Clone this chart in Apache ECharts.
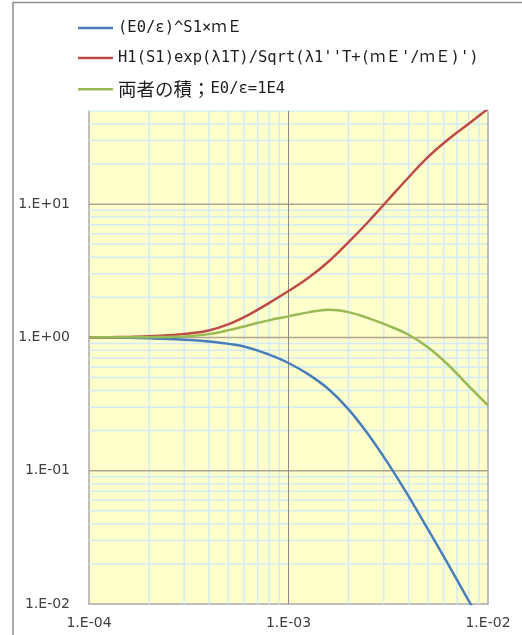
<!DOCTYPE html>
<html>
<head>
<meta charset="utf-8">
<script src="https://cdn.jsdelivr.net/npm/echarts@6/dist/echarts.min.js"></script>
<style>
  html, body { margin: 0; padding: 0; background: #ffffff; }
  #chart { width: 522px; height: 635px; }
</style>
</head>
<body>
<div id="chart"></div>
<script>
// Strain rate samples, 0.1 decade apart
const xValues = [1.0e-4, 1.259e-4, 1.585e-4, 1.995e-4, 2.512e-4, 3.162e-4, 3.981e-4,
                 5.012e-4, 6.310e-4, 7.943e-4, 1.0e-3, 1.259e-3, 1.585e-3, 1.995e-3,
                 2.512e-3, 3.162e-3, 3.981e-3, 5.012e-3, 6.310e-3, 7.943e-3, 1.0e-2];

// (E0/ε)^S1×mE
const seriesA = [1.0, 0.998, 0.993, 0.984, 0.973, 0.957, 0.933,
                 0.895, 0.838, 0.746, 0.643, 0.528, 0.410, 0.290,
                 0.187, 0.113, 0.0650, 0.0361, 0.0199, 0.0108, 0.00586];
// H1(S1)exp(λ1T)/Sqrt(...)
const seriesB = [1.0, 1.005, 1.009, 1.019, 1.038, 1.069, 1.127,
                 1.259, 1.479, 1.803, 2.228, 2.805, 3.698, 5.164,
                 7.379, 10.79, 15.78, 22.65, 30.55, 39.81, 51.88];
// product of both, E0/ε = 1E4
const seriesC = [1.0, 1.002, 1.003, 1.005, 1.009, 1.023, 1.059,
                 1.135, 1.236, 1.343, 1.439, 1.542, 1.614, 1.549,
                 1.396, 1.225, 1.052, 0.841, 0.624, 0.437, 0.309];

const seriesNames = [
  '(E0/ε)^S1×ｍＥ',
  "H1(S1)exp(λ1T)/Sqrt(λ1''T+(ｍＥ'/ｍＥ)')",
  '両者の積；E0/ε=1E4'
];

// axis ranges and gridline values
const xMin = 1e-4, xMax = 1e-2;
const yMin = 1e-2, yMax = 50;
const xMajor = [1e-3];
const xMinor = [2e-4, 3e-4, 4e-4, 5e-4, 6e-4, 7e-4, 8e-4, 9e-4,
                2e-3, 3e-3, 4e-3, 5e-3, 6e-3, 7e-3, 8e-3, 9e-3];
const xEdge = [1e-2];
const yMajor = [1e-1, 1, 10];
const yMinor = [2e-2, 3e-2, 4e-2, 5e-2, 6e-2, 7e-2, 8e-2, 9e-2,
                2e-1, 3e-1, 4e-1, 5e-1, 6e-1, 7e-1, 8e-1, 9e-1,
                2, 3, 4, 5, 6, 7, 8, 9, 20, 30, 40, 50];

const minorColor = '#d2eaf1';
const majorYColor = '#aca68e';
const majorXColor = '#8a8a8a';
const edgeColor = '#a8a8a8';
const curveColors = ['#4a7ebb', '#be4b48', '#98b954'];

function expLabel(v) {
  const e = Math.round(Math.log10(v));
  if (Math.abs(v / Math.pow(10, e) - 1) > 1e-6) return '';
  const a = Math.abs(e);
  return '1.E' + (e >= 0 ? '+' : '-') + (a < 10 ? '0' : '') + a;
}

function pairs(ys) { return xValues.map((x, i) => [x, ys[i]]); }

// gridlines drawn as broken line series spanning the axis ranges
function verticalLines(list) {
  const d = [];
  list.forEach(v => { d.push([v, yMin], [v, yMax], [v, '-']); });
  return d;
}
function horizontalLines(list) {
  const d = [];
  list.forEach(v => { d.push([xMin, v], [xMax, v], ['-', v]); });
  return d;
}
function gridSeries(data, color, width, z) {
  return {
    type: 'line', data: data, silent: true, z: z,
    symbol: 'none', showSymbol: false, connectNulls: false,
    lineStyle: { color: color, width: width },
    emphasis: { disabled: true }, tooltip: { show: false }
  };
}

// wrap the Japanese part of a legend name in a larger rich style
function legendText(name) {
  const m = name.match(/^([^\x00-\x7F]+)(.*)$/);
  if (m && /[\u3000-\u9fff\uff00-\uffef]/.test(m[1])) {
    return '{cjk|' + m[1] + '}' + m[2];
  }
  return name;
}

const chart = echarts.init(document.getElementById('chart'), null, { renderer: 'canvas' });

const lineSeries = (idx, values) => ({
  name: seriesNames[idx], type: 'line', data: pairs(values),
  smooth: 0.4, showSymbol: false, symbol: 'none', z: 4,
  lineStyle: { color: curveColors[idx], width: 2.5 },
  itemStyle: { color: curveColors[idx] }
});

chart.setOption({
  animation: false,
  backgroundColor: '#ffffff',
  graphic: [{
    type: 'rect',
    shape: { x: 13, y: 2.5, width: 600, height: 700 },
    style: { fill: 'none', stroke: '#8e8e8e', lineWidth: 1.5 },
    silent: true, z: 0
  }],
  grid: {
    left: 89, right: 34, top: 111, bottom: 31,
    show: true, backgroundColor: '#ffffcc', borderWidth: 0
  },
  legend: {
    orient: 'vertical',
    left: 78, top: 20, padding: 0,
    itemWidth: 35, itemHeight: 2.5,
    itemGap: 14,
    icon: 'rect',
    formatter: legendText,
    textStyle: {
      fontFamily: '"DejaVu Sans Mono", "Noto Sans CJK JP", monospace',
      fontSize: 15.5, color: '#1e1e1e', lineHeight: 16,
      rich: {
        cjk: {
          fontFamily: '"Noto Sans CJK JP", sans-serif',
          fontSize: 18.5, color: '#1e1e1e', lineHeight: 16
        }
      }
    },
    data: seriesNames
  },
  xAxis: {
    type: 'log', logBase: 10, min: xMin, max: xMax,
    axisLine: { show: true, lineStyle: { color: edgeColor, width: 1.5 } },
    axisTick: { show: false },
    splitLine: { show: false },
    axisLabel: {
      formatter: expLabel, margin: 12,
      fontFamily: '"DejaVu Sans", sans-serif', fontSize: 14, color: '#404040'
    }
  },
  yAxis: {
    type: 'log', logBase: 10, min: yMin, max: yMax,
    axisLine: { show: true, lineStyle: { color: edgeColor, width: 1.5 } },
    axisTick: { show: false },
    splitLine: { show: false },
    axisLabel: {
      formatter: expLabel, margin: 19,
      fontFamily: '"DejaVu Sans", sans-serif', fontSize: 14, color: '#404040'
    }
  },
  series: [
    gridSeries(verticalLines(xMinor), minorColor, 1.5, 1),
    gridSeries(horizontalLines(yMinor), minorColor, 1.5, 1),
    gridSeries(horizontalLines(yMajor), majorYColor, 1.5, 2),
    gridSeries(verticalLines(xMajor), majorXColor, 1, 2),
    gridSeries(verticalLines(xEdge), edgeColor, 1.5, 2),
    lineSeries(0, seriesA),
    lineSeries(1, seriesB),
    lineSeries(2, seriesC)
  ]
});
</script>
</body>
</html>
